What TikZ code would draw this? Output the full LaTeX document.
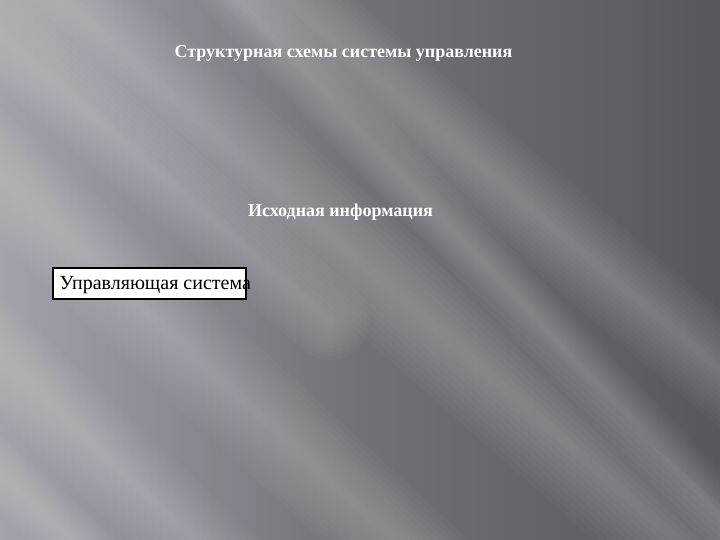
\documentclass[tikz,border=0pt]{standalone}
\usepackage{fontspec}
\setmainfont{Liberation Serif}

\definecolor{bglight}{RGB}{162,162,170}
\definecolor{bgmid}{RGB}{114,113,120}
\definecolor{bgdark}{RGB}{88,87,94}

\begin{document}
\begin{tikzpicture}[x=1pt,y=-1pt,
  headtext/.style={text=white, font=\bfseries\fontsize{18}{21}\selectfont, inner sep=0pt},
  boxtext/.style={text=black, font=\fontsize{20}{24}\selectfont, inner sep=0pt, anchor=west},
  streak/.style={white, opacity=.022, line cap=round}]
% background
\useasboundingbox (0,0) rectangle (720,540);
\shade[shading=axis, shading angle=-75, left color=bglight, right color=bgdark, middle color=bgmid] (0,0) rectangle (720,540);
% light streaks: start, end, width (all start outside the picture)
\begin{scope}
\clip (0,0) rectangle (720,540);
\foreach \xa/\ya/\xb/\yb/\w in {40/-20/700/560/110, -60/120/460/600/100, -60/300/280/620/90,
                                 250/-30/780/420/90, -40/0/330/320/80, 200/-40/800/600/60,
                                 -60/420/160/620/60}
  \foreach \k in {1,...,10}
    \draw[streak, line width=\w*\k/10 pt] (\xa,\ya) -- (\xb,\yb);
\end{scope}
% texts
\node[headtext] (title) at (343.5,53) {Структурная схемы системы управления};
\node[headtext] (info) at (340.5,212) {Исходная информация};
\draw[black, line width=2pt, fill=white] (53,268) rectangle (246,299);
\node[boxtext] (ctrl) at (59.5,285) {Управляющая система};
\end{tikzpicture}
\end{document}
